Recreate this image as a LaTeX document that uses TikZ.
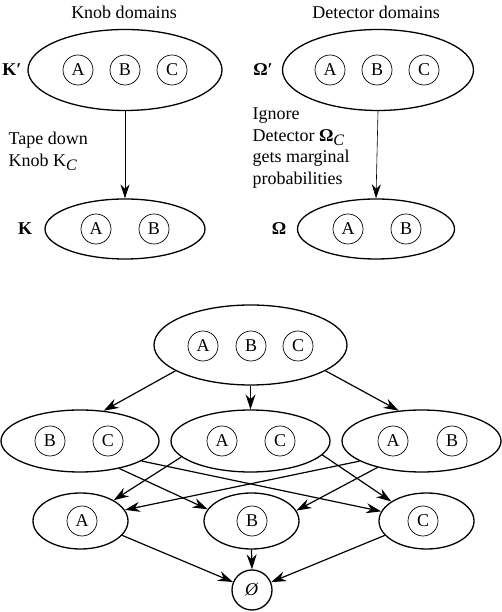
\documentclass[tikz,border=0pt]{standalone}
\usepackage{fontspec}
\setmainfont{Liberation Serif}
\usetikzlibrary{shapes.geometric,arrows.meta}
\newcommand{\subC}{\raisebox{-4pt}{\fontsize{16}{16}\selectfont\textit{C}}}

\begin{document}
\begin{tikzpicture}[x=1pt,y=1pt,font=\fontsize{18}{21}\selectfont,
    dom/.style={ellipse,draw,line width=1.3pt,inner sep=0pt},
    elem/.style={circle,draw,line width=0.7pt,inner sep=0pt,minimum size=30pt},
    arr/.style={-{Stealth[length=15pt,width=10pt]},line width=1.2pt},
    thinarr/.style={-{Stealth[length=14pt,width=9pt]},line width=0.6pt}]
    \useasboundingbox (0,0) rectangle (502,612);

    % knob domains
    \node (knobtitle) at (124,600) {Knob domains};
    \node[dom,minimum width=194pt,minimum height=81pt] (Kp) at (125,542) {};
    \node[elem] (KpA) at (78,542) {A};
    \node[elem] (KpB) at (125,542) {B};
    \node[elem] (KpC) at (172,542) {C};
    \node (Kplabel) at (12,542) {\textbf{K′}};
    \node[dom,minimum width=160pt,minimum height=60pt] (K) at (125,383) {};
    \node[elem] (KA) at (96,383) {A};
    \node[elem] (KB) at (154,383) {B};
    \node (Klabel) at (25,383) {\textbf{K}};
    \node[align=left,anchor=west,font=\fontsize{18}{22}\selectfont] (tape) at (5,461) {Tape down\\Knob K\subC};
    \draw[thinarr] (Kp.south) -- (K.north);

    % detector domains
    \node (dettitle) at (376,600) {Detector domains};
    \node[dom,minimum width=191pt,minimum height=81pt] (Op) at (378,542) {};
    \node[elem] (OpA) at (330,542) {A};
    \node[elem] (OpB) at (377,542) {B};
    \node[elem] (OpC) at (424,542) {C};
    \node (Oplabel) at (263,542) {\textbf{Ω′}};
    \node[dom,minimum width=157pt,minimum height=60pt] (O) at (376,383) {};
    \node[elem] (OA) at (348,383) {A};
    \node[elem] (OB) at (406,383) {B};
    \node (Olabel) at (279,383) {\textbf{Ω}};
    \node[align=left,anchor=west,font=\fontsize{18}{21.5}\selectfont] (ignore) at (249,464) {Ignore\\Detector \textbf{Ω}\subC\\gets marginal\\probabilities};
    \draw[thinarr] (Op.south) -- (O.north);

    % lattice of domains
    \node[dom,minimum width=193pt,minimum height=80pt] (ABC) at (250.5,267) {};
    \node[elem] (ABCa) at (203,266) {A};
    \node[elem] (ABCb) at (251,266) {B};
    \node[elem] (ABCc) at (298,266) {C};

    \node[dom,minimum width=158pt,minimum height=62pt] (BC) at (80,171) {};
    \node[elem] (BCb) at (50,171) {B};
    \node[elem] (BCc) at (108,171) {C};
    \node[dom,minimum width=159pt,minimum height=62pt] (AC) at (250.5,171) {};
    \node[elem] (ACa) at (222,171) {A};
    \node[elem] (ACc) at (280,171) {C};
    \node[dom,minimum width=159pt,minimum height=62pt] (AB) at (421.5,171) {};
    \node[elem] (ABa) at (393,171) {A};
    \node[elem] (ABb) at (452,171) {B};

    \node[dom,minimum width=95pt,minimum height=56pt] (A) at (80.5,91) {};
    \node[elem] (Aa) at (82,91) {A};
    \node[dom,minimum width=95pt,minimum height=56pt] (B) at (251.5,91) {};
    \node[elem] (Bb) at (252,91) {B};
    \node[dom,minimum width=95pt,minimum height=56pt] (C) at (426.5,91) {};
    \node[elem] (Cc) at (423,91) {C};

    \node[circle,draw,line width=1.3pt,inner sep=0pt,minimum size=40pt] (Z) at (252,22) {\textit{Ø}};

    \draw[arr] (ABC.199) -- (BC.52);
    \draw[arr] (ABC.south) -- (AC.north);
    \draw[arr] (ABC.341) -- (AB.127);
    \draw[arr] (BC.-35) -- (B.165);
    \draw[arr] (BC.-18) -- (C.168);
    \draw[arr] (AC.193) -- (A.32);
    \draw[arr] (AC.-11) -- (C.151);
    \draw[arr] (AB.198) -- (A.14);
    \draw[arr] (AB.211) -- (B.13);
    \draw[arr] (A.-19) -- (Z);
    \draw[arr] (B.south) -- (Z.north);
    \draw[arr] (C.199) -- (Z);
\end{tikzpicture}
\end{document}
